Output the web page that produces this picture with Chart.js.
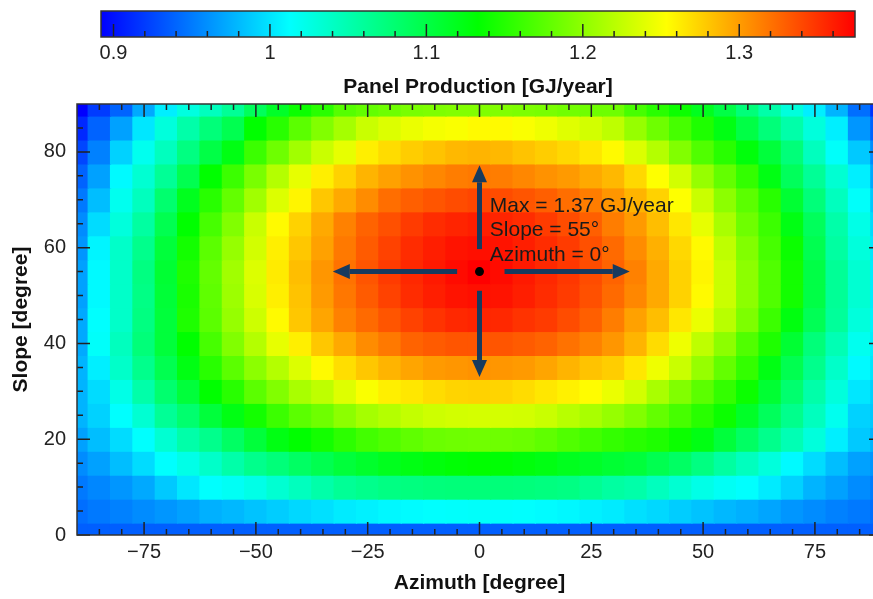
<!DOCTYPE html>
<html>
<head>
<meta charset="utf-8">
<script src="https://cdn.jsdelivr.net/npm/chart.js@4.4.1/dist/chart.umd.min.js"></script>
<style>
html, body { margin: 0; padding: 0; background: #fff; overflow: hidden; }
#wrap { position: relative; width: 873px; height: 599px; overflow: hidden; }
#cbBox { position: absolute; left: 0; top: 0; }
#hmBox { position: absolute; left: 0; top: 95px; }
</style>
</head>
<body>
<div id="wrap">
  <div id="cbBox"><canvas id="colorbar" width="873" height="100"></canvas></div>
  <div id="hmBox"><canvas id="heatmap" width="886" height="504"></canvas></div>
</div>
<script>
// grid of the map: azimuth columns, slope rows (top row first)
var azimuths = [-90,-85,-80,-75,-70,-65,-60,-55,-50,-45,-40,-35,-30,-25,-20,-15,-10,-5,0,5,10,15,20,25,30,35,40,45,50,55,60,65,70,75,80,85,90];
var slopes = [90,85,80,75,70,65,60,55,50,45,40,35,30,25,20,15,10,5,0];

// panel production [GJ/year], one row per slope
var production = [
  [0.892,0.920,0.939,0.972,1.005,1.027,1.043,1.062,1.090,1.114,1.138,1.152,1.173,1.180,1.185,1.190,1.192,1.194,1.194,1.194,1.192,1.190,1.187,1.185,1.185,1.166,1.152,1.138,1.119,1.100,1.076,1.053,1.029,1.005,0.977,0.944,0.916],
  [0.911,0.939,0.968,1.001,1.029,1.053,1.076,1.095,1.133,1.152,1.176,1.194,1.211,1.228,1.237,1.244,1.249,1.251,1.256,1.256,1.251,1.246,1.239,1.232,1.223,1.204,1.185,1.166,1.147,1.124,1.100,1.076,1.053,1.029,1.005,0.963,0.939],
  [0.925,0.953,0.991,1.020,1.043,1.072,1.100,1.124,1.161,1.185,1.209,1.228,1.242,1.261,1.270,1.277,1.282,1.287,1.289,1.287,1.282,1.277,1.272,1.265,1.256,1.237,1.218,1.194,1.171,1.152,1.128,1.105,1.076,1.043,1.015,0.987,0.958],
  [0.939,0.968,1.010,1.034,1.062,1.095,1.133,1.161,1.190,1.218,1.242,1.261,1.275,1.289,1.298,1.305,1.310,1.315,1.317,1.315,1.310,1.305,1.301,1.294,1.287,1.272,1.253,1.232,1.204,1.180,1.157,1.124,1.090,1.062,1.034,1.005,0.972],
  [0.949,0.982,1.020,1.043,1.081,1.119,1.152,1.180,1.209,1.237,1.258,1.280,1.294,1.308,1.322,1.329,1.334,1.338,1.341,1.338,1.334,1.329,1.322,1.315,1.303,1.289,1.275,1.253,1.228,1.199,1.176,1.152,1.109,1.076,1.043,1.015,0.987],
  [0.958,0.996,1.029,1.057,1.095,1.133,1.166,1.194,1.228,1.256,1.275,1.294,1.313,1.327,1.336,1.346,1.353,1.357,1.360,1.357,1.353,1.346,1.338,1.329,1.315,1.301,1.284,1.265,1.242,1.213,1.185,1.161,1.124,1.090,1.053,1.024,0.996],
  [0.963,1.008,1.038,1.067,1.105,1.142,1.176,1.204,1.232,1.261,1.280,1.298,1.317,1.331,1.343,1.353,1.360,1.365,1.367,1.365,1.360,1.353,1.346,1.336,1.324,1.308,1.291,1.272,1.256,1.223,1.194,1.166,1.138,1.095,1.057,1.029,1.001],
  [0.968,1.010,1.038,1.072,1.109,1.147,1.180,1.209,1.237,1.263,1.284,1.303,1.320,1.334,1.346,1.355,1.362,1.369,1.374,1.369,1.362,1.355,1.348,1.338,1.327,1.313,1.294,1.275,1.258,1.228,1.199,1.171,1.142,1.100,1.062,1.034,1.005],
  [0.968,1.010,1.038,1.070,1.107,1.145,1.178,1.207,1.235,1.261,1.282,1.301,1.318,1.331,1.343,1.353,1.360,1.365,1.367,1.365,1.360,1.353,1.346,1.336,1.324,1.310,1.294,1.275,1.256,1.228,1.199,1.171,1.142,1.100,1.062,1.034,1.005],
  [0.972,1.013,1.038,1.072,1.105,1.147,1.176,1.204,1.230,1.256,1.280,1.296,1.313,1.324,1.334,1.343,1.350,1.355,1.357,1.355,1.350,1.346,1.338,1.329,1.315,1.298,1.284,1.265,1.244,1.220,1.192,1.161,1.126,1.093,1.060,1.029,1.008],
  [0.972,1.015,1.043,1.076,1.105,1.133,1.166,1.194,1.218,1.242,1.261,1.280,1.294,1.308,1.317,1.327,1.331,1.334,1.334,1.334,1.331,1.327,1.320,1.313,1.303,1.289,1.270,1.246,1.223,1.199,1.171,1.147,1.109,1.076,1.048,1.020,1.005],
  [0.977,1.005,1.038,1.067,1.095,1.124,1.152,1.176,1.199,1.218,1.237,1.256,1.269,1.280,1.289,1.296,1.301,1.303,1.305,1.303,1.301,1.296,1.289,1.282,1.277,1.265,1.246,1.228,1.204,1.180,1.157,1.124,1.095,1.067,1.038,1.010,1.001],
  [0.977,0.996,1.024,1.053,1.081,1.105,1.133,1.152,1.176,1.194,1.213,1.223,1.238,1.251,1.261,1.265,1.270,1.274,1.275,1.274,1.270,1.265,1.260,1.255,1.244,1.232,1.213,1.194,1.176,1.157,1.138,1.109,1.081,1.053,1.029,1.001,0.991],
  [0.977,0.991,1.013,1.034,1.062,1.081,1.105,1.124,1.142,1.161,1.176,1.185,1.199,1.211,1.218,1.225,1.230,1.232,1.233,1.233,1.232,1.228,1.220,1.213,1.204,1.194,1.180,1.166,1.152,1.138,1.114,1.090,1.067,1.043,1.020,0.991,0.987],
  [0.968,0.982,0.996,1.013,1.034,1.053,1.067,1.086,1.105,1.124,1.133,1.142,1.154,1.164,1.171,1.178,1.183,1.185,1.186,1.185,1.183,1.178,1.171,1.164,1.157,1.152,1.147,1.138,1.124,1.105,1.086,1.067,1.048,1.029,1.005,0.987,0.977],
  [0.958,0.968,0.982,0.996,1.013,1.024,1.038,1.053,1.067,1.076,1.086,1.095,1.105,1.112,1.119,1.124,1.128,1.131,1.133,1.131,1.128,1.124,1.119,1.114,1.109,1.105,1.095,1.086,1.072,1.057,1.043,1.029,1.010,0.996,0.982,0.968,0.963],
  [0.949,0.956,0.963,0.972,0.987,1.001,1.013,1.017,1.024,1.034,1.043,1.053,1.062,1.067,1.071,1.073,1.075,1.076,1.076,1.076,1.075,1.073,1.071,1.064,1.057,1.053,1.043,1.034,1.024,1.017,1.013,1.003,0.991,0.977,0.968,0.958,0.951],
  [0.944,0.949,0.953,0.958,0.963,0.968,0.975,0.979,0.984,0.989,0.994,0.998,1.003,1.006,1.009,1.011,1.013,1.014,1.015,1.014,1.013,1.011,1.009,1.006,1.003,0.998,0.994,0.989,0.984,0.979,0.975,0.970,0.963,0.958,0.953,0.949,0.944],
  [0.937,0.937,0.937,0.937,0.937,0.937,0.937,0.937,0.937,0.937,0.937,0.937,0.937,0.937,0.937,0.937,0.937,0.937,0.937,0.937,0.937,0.937,0.937,0.937,0.937,0.937,0.937,0.937,0.937,0.937,0.937,0.937,0.937,0.937,0.937,0.937,0.937]
];

// tick values
var xMajor = [-75, -50, -25, 0, 25, 50, 75];
var xMinor = [-85,-80,-70,-65,-60,-55,-45,-40,-35,-30,-20,-15,-10,-5,5,10,15,20,30,35,40,45,55,60,65,70,80,85];
var yMajor = [0, 20, 40, 60, 80];
var yMinor = [5,10,15,25,30,35,45,50,55,65,70,75,85];
var cbMajor = [0.9, 1, 1.1, 1.2, 1.3];
var cbMinor = [0.92,0.94,0.96,0.98,1.02,1.04,1.06,1.08,1.12,1.14,1.16,1.18,1.22,1.24,1.26,1.28,1.32,1.34,1.36];

// optimum annotation
var maxPoint = { x: 0, y: 55 };
var maxLabel = ['Max = 1.37 GJ/year', 'Slope = 55\u00B0', 'Azimuth = 0\u00B0'];
var labelAt = { x: 2.3, y: 68.7 };
var arrows = [[-5, 55, -32.8, 55], [5.6, 55, 33.6, 55], [0, 59.7, 0, 77.2], [0, 51, 0, 33]];

var FONT = "'Liberation Sans', Arial, sans-serif";
Chart.defaults.font.family = FONT;

var vmin = Math.min.apply(null, production.map(function (r) { return Math.min.apply(null, r); }));
var vmax = Math.max.apply(null, production.map(function (r) { return Math.max.apply(null, r); }));

var stops = [[0, 0, 255], [0, 255, 255], [0, 255, 0], [255, 255, 0], [255, 0, 0]];
function colorFor(v) {
  var t = Math.max(0, Math.min(1, (v - vmin) / (vmax - vmin))) * (stops.length - 1);
  var i = Math.min(stops.length - 2, Math.floor(t)), f = t - i;
  var a = stops[i], b = stops[i + 1];
  return 'rgb(' + [0, 1, 2].map(function (k) { return Math.round(a[k] + (b[k] - a[k]) * f); }).join(',') + ')';
}
function gradientFill(c) {
  var a = c.chart.chartArea;
  if (!a) return 'rgba(0,0,0,0)';
  var g = c.chart.ctx.createLinearGradient(a.left, 0, a.right, 0);
  stops.forEach(function (s, i) { g.addColorStop(i / (stops.length - 1), 'rgb(' + s.join(',') + ')'); });
  return g;
}
function minus(v) { return v < 0 ? '\u2212' + (-v) : String(v); }
// fixed axis size, no extra padding pushed onto the chart area
function fixSize(w, h) {
  return function (s) {
    if (w != null) s.width = w;
    if (h != null) s.height = h;
    s.paddingTop = s.paddingBottom = s.paddingLeft = s.paddingRight = 0;
  };
}

// tick marks drawn inside the frame
var inTicks = {
  id: 'inTicks',
  afterDatasetsDraw: function (chart, args, opts) {
    var ctx = chart.ctx, a = chart.chartArea;
    ctx.save();
    ctx.strokeStyle = '#222';
    ctx.lineWidth = 1.5;
    opts.marks.forEach(function (m) {
      var s = chart.scales[m.scale];
      m.values.forEach(function (v) {
        var p = s.getPixelForValue(v);
        ctx.beginPath();
        if (s.isHorizontal()) {
          ctx.moveTo(p, a.bottom); ctx.lineTo(p, a.bottom - m.len);
          if (m.mirror) { ctx.moveTo(p, a.top); ctx.lineTo(p, a.top + m.len); }
        } else {
          ctx.moveTo(a.left, p); ctx.lineTo(a.left + m.len, p);
          if (m.mirror) { ctx.moveTo(a.right, p); ctx.lineTo(a.right - m.len, p); }
        }
        ctx.stroke();
      });
    });
    ctx.strokeStyle = opts.frame;
    ctx.lineWidth = 1.5;
    ctx.strokeRect(a.left, a.top, a.right - a.left, a.bottom - a.top);
    ctx.restore();
  }
};

// arrows and text around the maximum
var maxNote = {
  id: 'maxNote',
  afterDatasetsDraw: function (chart) {
    var xs = chart.scales.x, ys = chart.scales.y, ctx = chart.ctx;
    ctx.save();
    ctx.strokeStyle = '#173a5e';
    ctx.fillStyle = '#173a5e';
    ctx.lineWidth = 5;
    arrows.forEach(function (ar) {
      var x0 = xs.getPixelForValue(ar[0]), y0 = ys.getPixelForValue(ar[1]);
      var x1 = xs.getPixelForValue(ar[2]), y1 = ys.getPixelForValue(ar[3]);
      var ang = Math.atan2(y1 - y0, x1 - x0), head = 17, half = 7.5;
      var bx = x1 - head * Math.cos(ang), by = y1 - head * Math.sin(ang);
      ctx.beginPath(); ctx.moveTo(x0, y0); ctx.lineTo(bx, by); ctx.stroke();
      ctx.beginPath();
      ctx.moveTo(x1, y1);
      ctx.lineTo(bx + half * Math.sin(ang), by - half * Math.cos(ang));
      ctx.lineTo(bx - half * Math.sin(ang), by + half * Math.cos(ang));
      ctx.closePath(); ctx.fill();
    });
    ctx.fillStyle = '#1a1a1a';
    ctx.font = '21px ' + FONT;
    ctx.textBaseline = 'middle';
    ctx.textAlign = 'left';
    var tx = xs.getPixelForValue(labelAt.x), ty = ys.getPixelForValue(labelAt.y);
    maxLabel.forEach(function (line, i) { ctx.fillText(line, tx, ty + i * 24.5); });
    ctx.restore();
  }
};

// colour bar
new Chart(document.getElementById('colorbar'), {
  type: 'bar',
  data: {
    labels: [''],
    datasets: [{ data: [[vmin, vmax]], backgroundColor: gradientFill, borderWidth: 0, barPercentage: 1, categoryPercentage: 1 }]
  },
  options: {
    indexAxis: 'y',
    responsive: false,
    animation: false,
    layout: { autoPadding: false, padding: { left: 101, right: 18, top: 11, bottom: 0 } },
    scales: {
      x: {
        type: 'linear', min: vmin, max: vmax,
        grid: { display: false, drawTicks: false },
        border: { display: false },
        ticks: { font: { size: 20 }, color: '#222', padding: 4, maxRotation: 0, callback: function (v) { return String(v); } },
        afterBuildTicks: function (s) { s.ticks = cbMajor.map(function (v) { return { value: v }; }); },
        afterFit: fixSize(null, 63),
        title: { display: true, text: 'Panel Production [GJ/year]', color: '#111', font: { size: 21, weight: 'bold' }, padding: { top: 0, bottom: 0 } }
      },
      y: { display: false }
    },
    plugins: {
      legend: { display: false },
      tooltip: { enabled: false },
      inTicks: { frame: '#333', marks: [{ scale: 'x', values: cbMajor, len: 13 }, { scale: 'x', values: cbMinor, len: 6 }] }
    }
  },
  plugins: [inTicks]
});

// heat map: one floating-bar dataset per slope row
var datasets = slopes.map(function (s, i) {
  return {
    type: 'bar',
    data: azimuths.map(function (a) { return { x: a, y: [s - 2.5, s + 2.5] }; }),
    backgroundColor: production[i].map(colorFor),
    borderWidth: 0,
    grouped: false,
    barPercentage: 1,
    categoryPercentage: 1,
    inflateAmount: 0.6
  };
});
datasets.push({ type: 'scatter', data: [maxPoint], pointRadius: 4.5, backgroundColor: '#000', borderWidth: 0, order: -1 });

new Chart(document.getElementById('heatmap'), {
  type: 'bar',
  data: { datasets: datasets },
  options: {
    responsive: false,
    animation: false,
    layout: { autoPadding: false, padding: { left: 0, right: 4, top: 9, bottom: 0 } },
    scales: {
      x: {
        type: 'linear', min: -90, max: 90, offset: false,
        grid: { display: false, drawTicks: false },
        border: { display: false },
        ticks: { font: { size: 20 }, color: '#222', padding: 5, maxRotation: 0, callback: minus },
        afterBuildTicks: function (s) { s.ticks = xMajor.map(function (v) { return { value: v }; }); },
        afterFit: fixSize(null, 64),
        title: { display: true, text: 'Azimuth [degree]', color: '#111', font: { size: 21, weight: 'bold' }, padding: { top: 0, bottom: 3 } }
      },
      y: {
        type: 'linear', min: 0, max: 90,
        grid: { display: false, drawTicks: false },
        border: { display: false },
        ticks: { font: { size: 20 }, color: '#222', padding: 11 },
        afterBuildTicks: function (s) { s.ticks = yMajor.map(function (v) { return { value: v }; }); },
        afterFit: fixSize(77, null),
        title: { display: true, text: 'Slope [degree]', color: '#111', font: { size: 21, weight: 'bold' }, padding: { top: 9, bottom: 0 } }
      }
    },
    plugins: {
      legend: { display: false },
      tooltip: { enabled: false },
      inTicks: {
        frame: '#333',
        marks: [
          { scale: 'x', values: xMajor, len: 13, mirror: true },
          { scale: 'x', values: xMinor, len: 6, mirror: true },
          { scale: 'y', values: yMajor, len: 13, mirror: true },
          { scale: 'y', values: yMinor, len: 6, mirror: true }
        ]
      }
    }
  },
  plugins: [inTicks, maxNote]
});
</script>
</body>
</html>
